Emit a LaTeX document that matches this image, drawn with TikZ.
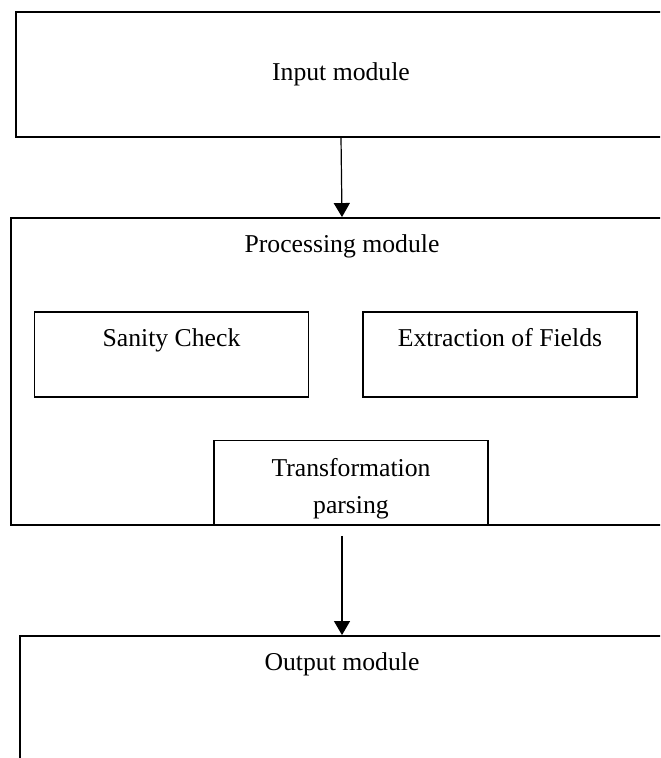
\documentclass[tikz,border=0pt]{standalone}
\usepackage{fontspec}
\setmainfont{Liberation Serif}
\usetikzlibrary{positioning,arrows.meta}

\tikzset{
  module/.style={draw, line width=0.95pt, inner sep=0pt},
  part/.style={draw, line width=0.95pt, inner sep=0pt, minimum width=137pt, minimum height=42.5pt},
  caption/.style={inner sep=0pt},
  flow/.style={line width=0.6pt, -{Triangle[width=8pt,length=7pt]}}
}

\begin{document}
\begin{tikzpicture}[x=1pt, y=-1pt, font=\fontsize{12.85}{18.5}\selectfont]

    \clip (0,0) rectangle (330,379);

    % Define nodes
    \node[module, minimum width=325pt, minimum height=62.5pt] (input) at (170.5,37.25) {Input module};
    \node[module, minimum width=331pt, minimum height=153.5pt] (proc) at (171,185.75) {};
    \node[caption] (proctitle) at ([yshift=-14.5pt]proc.north) {Processing module};

    % parts of the processing module
    \node[part, text height=9pt, text depth=17pt] (sanity) at (85.75,177.25) {Sanity Check};
    \node[part, text height=9pt, text depth=17pt] (extract) at (250,177.25) {Extraction of Fields};
    \node[part, align=center] (trans) at (175.5,241.5) {\rule{0pt}{14.5pt}Transformation\\parsing};

    % output
    \node[module, minimum width=322pt, minimum height=82pt] (output) at (171,359) {};
    \node[caption] (outtitle) at ([yshift=-14.5pt]output.north) {Output module};

    % Connect the nodes
    \draw[flow] (input.south) -- (proc.north);
    \draw[flow, shorten <=5pt] (proc.south) -- (output.north);

\end{tikzpicture}
\end{document}
